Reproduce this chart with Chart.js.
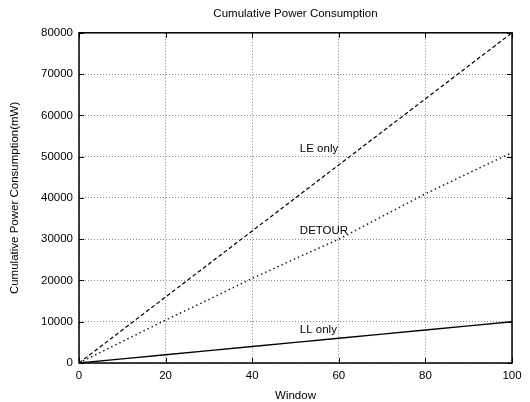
<!DOCTYPE html>
<html>
<head>
<meta charset="utf-8">
<script src="https://cdn.jsdelivr.net/npm/chart.js@4"></script>
<style>
  html, body { margin: 0; padding: 0; background: #fff; }
  #wrap { width: 530px; height: 402px; }
</style>
</head>
<body>
<div id="wrap"><canvas id="powerChart"></canvas></div>
<script>
// data
const windows = [0, 10, 20, 30, 40, 50, 60, 70, 80, 90, 100];
const leOnly = [0, 8000, 16000, 24000, 32000, 40000, 48000, 56000, 64000, 72000, 80000];
const detour = [0, 5200, 10400, 15400, 20500, 25300, 30000, 35500, 41000, 46000, 51000];
const llOnly = [0, 1000, 2000, 3000, 4000, 5000, 6000, 7000, 8000, 9000, 10000];
const xTicks = [0, 20, 40, 60, 80, 100];
const yTicks = [0, 10000, 20000, 30000, 40000, 50000, 60000, 70000, 80000];
const curveLabels = [
    { text: 'LE only', x: 51, y: 52000 },
    { text: 'DETOUR', x: 51, y: 32000 },
    { text: 'LL only', x: 51, y: 8000 }
];

const FONT = 'Liberation Sans, Arial, Helvetica, sans-serif';

function toPoints(ys) {
    return windows.map((w, i) => ({ x: w, y: ys[i] }));
}

// frame + inward ticks + curve labels, gnuplot style
const framePlugin = {
    id: 'frame',
    afterDraw(chart) {
        const { ctx, chartArea: a, scales } = chart;
        ctx.save();
        ctx.strokeStyle = '#000';
        ctx.lineWidth = 1;
        ctx.setLineDash([]);
        xTicks.forEach(v => {
            const px = Math.round(scales.x.getPixelForValue(v)) + 0.5;
            ctx.beginPath();
            ctx.moveTo(px, a.bottom); ctx.lineTo(px, a.bottom - 5);
            ctx.moveTo(px, a.top); ctx.lineTo(px, a.top + 5);
            ctx.stroke();
        });
        yTicks.forEach(v => {
            const py = Math.round(scales.y.getPixelForValue(v)) + 0.5;
            ctx.beginPath();
            ctx.moveTo(a.left, py); ctx.lineTo(a.left + 5, py);
            ctx.moveTo(a.right, py); ctx.lineTo(a.right - 5, py);
            ctx.stroke();
        });
        ctx.lineWidth = 1.5;
        ctx.strokeRect(a.left, a.top, a.right - a.left, a.bottom - a.top);

        ctx.fillStyle = '#000';
        ctx.font = '11.5px ' + FONT;
        ctx.textAlign = 'left';
        ctx.textBaseline = 'middle';
        curveLabels.forEach(l => {
            ctx.fillText(l.text, scales.x.getPixelForValue(l.x), scales.y.getPixelForValue(l.y));
        });
        ctx.restore();
    }
};

const ctx = document.getElementById('powerChart');
const powerChart = new Chart(ctx, {
    type: 'line',
    data: {
        datasets: [
            {
                label: 'LE only',
                data: toPoints(leOnly),
                borderColor: '#000',
                borderWidth: 1.2,
                borderDash: [4, 2.5],
                pointRadius: 0
            },
            {
                label: 'DETOUR',
                data: toPoints(detour),
                borderColor: '#222',
                borderWidth: 1.5,
                borderDash: [1.5, 3],
                pointRadius: 0
            },
            {
                label: 'LL only',
                data: toPoints(llOnly),
                borderColor: '#000',
                borderWidth: 1.3,
                pointRadius: 0
            }
        ]
    },
    plugins: [framePlugin],
    options: {
        responsive: true,
        maintainAspectRatio: false,
        animation: false,
        layout: { padding: { left: 0, right: 18, top: 0, bottom: 0 } },
        plugins: {
            legend: { display: false },
            tooltip: { enabled: false },
            title: {
                display: true,
                fullSize: false,
                text: 'Cumulative Power Consumption',
                color: '#000',
                font: { family: FONT, size: 11.5, weight: 'normal' },
                padding: { top: 7, bottom: 12 }
            }
        },
        scales: {
            x: {
                type: 'linear',
                min: 0,
                max: 100,
                afterBuildTicks: s => { s.ticks = xTicks.map(v => ({ value: v })); },
                afterFit: s => { s.height = 39; },
                grid: {
                    color: '#888',
                    lineWidth: 1,
                    drawTicks: false
                },
                border: { display: false, dash: [1, 2] },
                ticks: {
                    color: '#000',
                    padding: 6,
                    maxRotation: 0,
                    font: { family: FONT, size: 11.5 }
                },
                title: {
                    display: true,
                    text: 'Window',
                    color: '#000',
                    font: { family: FONT, size: 11.5, lineHeight: 1 },
                    padding: { top: 0, bottom: 0 }
                }
            },
            y: {
                type: 'linear',
                min: 0,
                max: 80000,
                afterBuildTicks: s => { s.ticks = yTicks.map(v => ({ value: v })); },
                afterFit: s => { s.width = 79; },
                grid: {
                    color: '#888',
                    lineWidth: 1,
                    drawTicks: false
                },
                border: { display: false, dash: [1, 2] },
                ticks: {
                    color: '#000',
                    padding: 6,
                    font: { family: FONT, size: 11.5 },
                    callback: v => String(v)
                },
                title: {
                    display: true,
                    text: 'Cumulative Power Consumption(mW)',
                    color: '#000',
                    font: { family: FONT, size: 11.5 },
                    padding: { top: 8, bottom: 0 }
                }
            }
        }
    }
});
</script>
</body>
</html>
